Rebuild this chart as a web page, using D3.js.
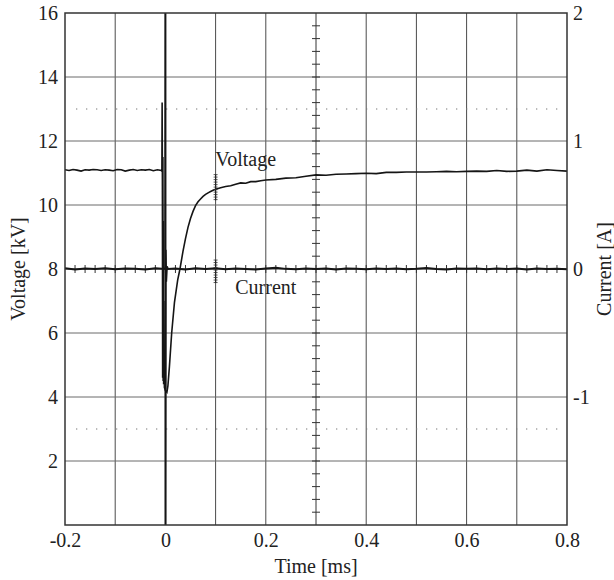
<!DOCTYPE html>
<html>
<head>
<meta charset="utf-8">
<script src="https://cdn.jsdelivr.net/npm/d3@7"></script>
<style>
  body { margin: 0; background: #fff; }
  svg text { font-family: "Liberation Serif", "Times New Roman", serif; fill: #222; }
</style>
</head>
<body>
<svg id="chart" width="614" height="580"></svg>
<script>
/* ── DATA ─────────────────────────────────────────── */
const timeTicks    = [-0.2, 0, 0.2, 0.4, 0.6, 0.8];
const voltageTicks = [2, 4, 6, 8, 10, 12, 14, 16];
const currentTicks = [-1, 0, 1, 2];
const dottedLevels = [3, 13];   // kV

const voltageTime = [
  -0.200,-0.192,-0.184,-0.176,-0.168,-0.160,-0.152,-0.144,-0.136,-0.128,-0.120,-0.112,-0.104,
  -0.096,-0.088,-0.080,-0.072,-0.064,-0.056,-0.048,-0.040,-0.032,-0.024,-0.016,-0.008,
  -0.007,-0.0065,-0.006,-0.0055,-0.005,-0.0045,-0.004,-0.0035,-0.003,-0.002,0.000,
  0.003,0.005,0.008,0.0125,0.018,0.0245,0.029,0.035,0.040,0.045,0.050,0.055,0.060,0.065,
  0.070,0.075,0.080,0.085,0.090,0.095,0.100,
  0.11,0.12,0.13,0.14,0.15,0.16,0.17,0.18,0.19,0.20,0.22,0.24,0.26,0.28,0.30,0.32,0.34,
  0.36,0.38,0.40,0.42,0.44,0.46,0.48,0.50,0.52,0.54,0.56,0.58,0.60,0.62,0.64,0.66,0.68,
  0.70,0.72,0.74,0.76,0.78,0.80
];
const voltageKV = [
  11.10,11.08,11.11,11.09,11.06,11.10,11.09,11.11,11.10,11.08,11.10,11.09,11.07,
  11.11,11.10,11.06,11.09,11.11,11.08,11.10,11.09,11.11,11.07,11.10,11.08,
  11.05,13.20,10.80,4.60,11.50,4.50,9.50,4.40,7.00,4.30,4.20,
  4.15,4.35,4.95,6.00,6.95,7.66,8.00,8.55,8.95,9.30,9.58,9.80,9.98,10.10,
  10.19,10.27,10.33,10.38,10.42,10.46,10.49,
  10.54,10.58,10.60,10.65,10.69,10.68,10.73,10.73,10.76,10.78,10.80,10.84,10.85,10.90,10.94,10.93,10.96,
  10.97,10.98,10.99,10.98,11.02,11.02,11.03,11.03,11.03,11.04,11.05,11.04,11.05,11.06,11.05,11.08,11.05,
  11.06,11.09,11.06,11.10,11.08,11.06
];

const currentTime = [
  -0.20,-0.18,-0.16,-0.14,-0.12,-0.10,-0.08,-0.06,-0.04,-0.02,-0.0005,
  0.0000,0.0003,0.0008,0.0015,0.003,0.005,
  0.02,0.04,0.06,0.08,0.10,0.12,0.14,0.16,0.18,0.20,0.22,0.24,0.26,0.28,0.30,
  0.32,0.34,0.36,0.38,0.40,0.42,0.44,0.46,0.48,0.50,0.52,0.54,0.56,0.58,0.60,
  0.62,0.64,0.66,0.68,0.70,0.72,0.74,0.76,0.78,0.80
];
const currentA = [
  0.005,-0.003,0.004,0.000,0.006,-0.002,0.004,0.001,-0.003,0.005,0.000,
  2.10,-2.10,0.15,-0.10,0.02,0.000,
  0.004,-0.003,0.005,0.000,0.006,-0.002,0.003,0.000,-0.004,0.004,0.010,0.001,-0.002,0.004,0.000,
  0.003,-0.003,0.004,0.001,-0.002,0.003,0.000,0.004,-0.002,0.002,0.008,0.000,-0.003,0.004,0.001,
  0.003,-0.002,0.004,0.000,0.003,-0.003,0.004,0.000,0.002,-0.002
];

// cursor markers (oscilloscope) at t = 0.1 ms
const markerTime     = 0.1;
const voltageMarker  = [10.15, 10.95];
const currentMarker  = [-0.11, 0.07];

/* ── LAYOUT ───────────────────────────────────────── */
const svg = d3.select('#chart');
const plotL = 65, plotR = 567, plotT = 13, plotB = 525;
const serif = '"Liberation Serif", "Times New Roman", serif';
const fontSize = '20px';

const x  = d3.scaleLinear().domain([-0.2, 0.8]).range([plotL, plotR]);
const yV = d3.scaleLinear().domain([0, 16]).range([plotB, plotT]);
const yI = d3.scaleLinear().domain([-2, 2]).range([plotB, plotT]);

svg.append('defs').append('clipPath').attr('id', 'plot-clip')
  .append('rect').attr('x', plotL).attr('y', plotT)
  .attr('width', plotR - plotL).attr('height', plotB - plotT);

/* ── GRID ─────────────────────────────────────────── */
const grid = svg.append('g');
grid.selectAll('.vgrid').data(d3.range(-0.1, 0.75, 0.1).filter(t => Math.abs(t - 0.3) > 1e-6))
  .enter().append('line')
  .attr('x1', d => x(d)).attr('x2', d => x(d))
  .attr('y1', plotT).attr('y2', plotB)
  .attr('stroke', '#4a4a4a').attr('stroke-width', 1);
grid.selectAll('.hgrid').data(d3.range(2, 15, 2).filter(v => v !== 8))
  .enter().append('line')
  .attr('x1', plotL).attr('x2', plotR)
  .attr('y1', d => yV(d)).attr('y2', d => yV(d))
  .attr('stroke', '#6a6a6a').attr('stroke-width', 1);

grid.selectAll('.dotted').data(dottedLevels).enter().append('line')
  .attr('x1', plotL + 11).attr('x2', plotR - 6)
  .attr('y1', d => yV(d)).attr('y2', d => yV(d))
  .attr('stroke', '#777').attr('stroke-width', 1.2)
  .attr('stroke-dasharray', '1.3,8.7');

// centre crosshair with minor ticks
grid.append('line').attr('x1', x(0.3)).attr('x2', x(0.3)).attr('y1', plotT).attr('y2', plotB)
  .attr('stroke', '#333').attr('stroke-width', 1);
grid.append('line').attr('x1', plotL).attr('x2', plotR).attr('y1', yV(8)).attr('y2', yV(8))
  .attr('stroke', '#333').attr('stroke-width', 1);
grid.selectAll('.vtick').data(d3.range(0.4, 16, 0.4)).enter().append('line')
  .attr('x1', x(0.3) - 4).attr('x2', x(0.3) + 4)
  .attr('y1', d => yV(d)).attr('y2', d => yV(d))
  .attr('stroke', '#333').attr('stroke-width', 1);
grid.selectAll('.htick').data(d3.range(-0.18, 0.8, 0.02)).enter().append('line')
  .attr('x1', d => x(d)).attr('x2', d => x(d))
  .attr('y1', yV(8) - 4).attr('y2', yV(8) + 4)
  .attr('stroke', '#333').attr('stroke-width', 1);

/* ── TRACES ───────────────────────────────────────── */
const plot = svg.append('g').attr('clip-path', 'url(#plot-clip)');

const vLine = d3.line().x(d => x(d[0])).y(d => yV(d[1]));
const iLine = d3.line().x(d => x(d[0])).y(d => yI(d[1]));

plot.append('path').datum(d3.zip(currentTime, currentA))
  .attr('d', iLine).attr('fill', 'none')
  .attr('stroke', '#151515').attr('stroke-width', 2);
plot.append('path').datum(d3.zip(voltageTime, voltageKV))
  .attr('d', vLine).attr('fill', 'none')
  .attr('stroke', '#151515').attr('stroke-width', 1.6);

// cursor markers: short vertical combs
function drawMarker(scale, range) {
  const y0 = scale(range[0]), y1 = scale(range[1]);
  const mx = x(markerTime);
  plot.append('line').attr('x1', mx).attr('x2', mx).attr('y1', y0).attr('y2', y1)
    .attr('stroke', '#222').attr('stroke-width', 1.2);
  plot.selectAll(null).data(d3.range(Math.min(y0, y1), Math.max(y0, y1), 2.5)).enter().append('line')
    .attr('x1', mx - 2).attr('x2', mx + 2)
    .attr('y1', d => d).attr('y2', d => d)
    .attr('stroke', '#333').attr('stroke-width', 0.8);
}
drawMarker(yV, voltageMarker);
drawMarker(yI, currentMarker);

/* ── FRAME & AXES ─────────────────────────────────── */
svg.append('rect').attr('x', plotL).attr('y', plotT)
  .attr('width', plotR - plotL).attr('height', plotB - plotT)
  .attr('fill', 'none').attr('stroke', '#333').attr('stroke-width', 1.5);

function styleAxis(g) {
  g.select('.domain').remove();
  g.attr('font-family', serif).attr('font-size', fontSize);
  g.selectAll('text').attr('fill', '#222');
}

svg.append('g').attr('transform', 'translate(0,' + plotB + ')')
  .call(d3.axisBottom(x).tickValues(timeTicks).tickSize(0).tickPadding(8)
    .tickFormat(d => String(d)))
  .call(styleAxis);

svg.append('g').attr('transform', 'translate(' + plotL + ',0)')
  .call(d3.axisLeft(yV).tickValues(voltageTicks).tickSize(0).tickPadding(7)
    .tickFormat(d => String(d)))
  .call(styleAxis);

svg.append('g').attr('transform', 'translate(' + plotR + ',0)')
  .call(d3.axisRight(yI).tickValues(currentTicks).tickSize(0).tickPadding(6)
    .tickFormat(d => String(d)))
  .call(styleAxis);

/* ── LABELS ───────────────────────────────────────── */
svg.append('text').attr('x', (plotL + plotR) / 2).attr('y', 573)
  .attr('text-anchor', 'middle').style('font-size', fontSize).text('Time [ms]');
svg.append('text').attr('transform', 'translate(25,' + yV(8) + ') rotate(-90)')
  .attr('text-anchor', 'middle').style('font-size', fontSize).text('Voltage [kV]');
svg.append('text').attr('transform', 'translate(611,' + yV(8) + ') rotate(-90)')
  .attr('text-anchor', 'middle').style('font-size', fontSize).text('Current [A]');

svg.append('text').attr('x', x(0.16)).attr('y', yV(10.95) - 9)
  .attr('text-anchor', 'middle').style('font-size', fontSize).text('Voltage');
svg.append('text').attr('x', x(0.2)).attr('y', yV(8) + 25)
  .attr('text-anchor', 'middle').style('font-size', fontSize).text('Current');
</script>
</body>
</html>
